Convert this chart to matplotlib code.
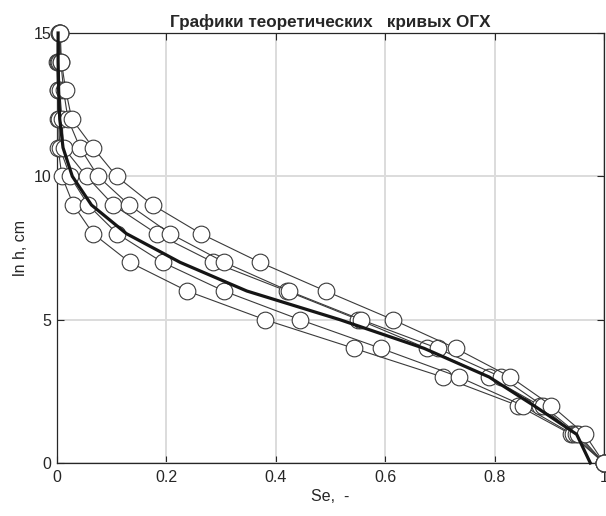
import matplotlib.pyplot as plt
import numpy as np

# ln h levels (one marker per level)
ln_h = [0, 1, 2, 3, 4, 5, 6, 7, 8, 9, 10, 11, 12, 13, 14, 15]

# theoretical water retention curves, Se per ln h level
se_1 = [1.0, 0.940, 0.843, 0.705, 0.543, 0.380, 0.238, 0.133, 0.066, 0.030, 0.009, 0.002, 0.001, 0.001, 0.000, 0.003]
se_2 = [1.0, 0.943, 0.852, 0.735, 0.592, 0.444, 0.305, 0.193, 0.110, 0.057, 0.024, 0.005, 0.003, 0.002, 0.001, 0.004]
se_3 = [1.0, 0.949, 0.883, 0.790, 0.676, 0.551, 0.420, 0.286, 0.182, 0.103, 0.054, 0.012, 0.009, 0.005, 0.004, 0.005]
se_4 = [1.0, 0.953, 0.888, 0.812, 0.696, 0.556, 0.424, 0.306, 0.207, 0.132, 0.075, 0.042, 0.020, 0.012, 0.007, 0.005]
se_5 = [1.0, 0.965, 0.904, 0.829, 0.729, 0.614, 0.491, 0.371, 0.263, 0.175, 0.109, 0.066, 0.027, 0.016, 0.008, 0.006]

# averaged curve (thick black)
se_mean = [0.975, 0.950, 0.872, 0.790, 0.671, 0.517, 0.347, 0.225, 0.127, 0.063, 0.028, 0.011, 0.005, 0.003, 0.002, 0.002]

plt.rcParams['font.family'] = ['Liberation Sans', 'DejaVu Sans']

fig = plt.figure(figsize=(6.06, 5.16), dpi=100)
ax = fig.add_axes([57 / 606, 53 / 516, 547 / 606, 430 / 516])

for se in [se_1, se_2, se_3, se_4, se_5]:
    ax.plot(se, ln_h, color='#3a3a3a', linewidth=0.8, marker='o',
            markersize=12, markerfacecolor='white', markeredgecolor='#3a3a3a',
            markeredgewidth=0.8, clip_on=False, zorder=3)

ax.plot(se_mean, ln_h, color='#151515', linewidth=2.3, clip_on=False, zorder=4)

ax.set_xlim(0, 1)
ax.set_ylim(0, 15)
ax.set_xticks([0, 0.2, 0.4, 0.6, 0.8, 1])
ax.set_xticklabels(['0', '0.2', '0.4', '0.6', '0.8', '1'])
ax.set_yticks([0, 5, 10, 15])
ax.grid(True, color='#dcdcdc', linewidth=1.4)
ax.set_axisbelow(True)
ax.tick_params(direction='in', top=True, right=True, length=5, width=0.8,
               labelsize=11.5, colors='#262626', pad=5)
ax.tick_params(axis='y', pad=4)
for s in ax.spines.values():
    s.set_color('#262626')
    s.set_linewidth(0.9)

ax.set_title('Графики теоретических   кривых ОГХ', fontsize=12.3,
             fontweight='bold', color='#262626', pad=4)
ax.set_xlabel('Se,  -', fontsize=11.5, color='#262626', labelpad=3)
ax.set_ylabel('ln h, cm', fontsize=11.5, color='#262626', labelpad=4)

fig.savefig('out.png', dpi=100)
